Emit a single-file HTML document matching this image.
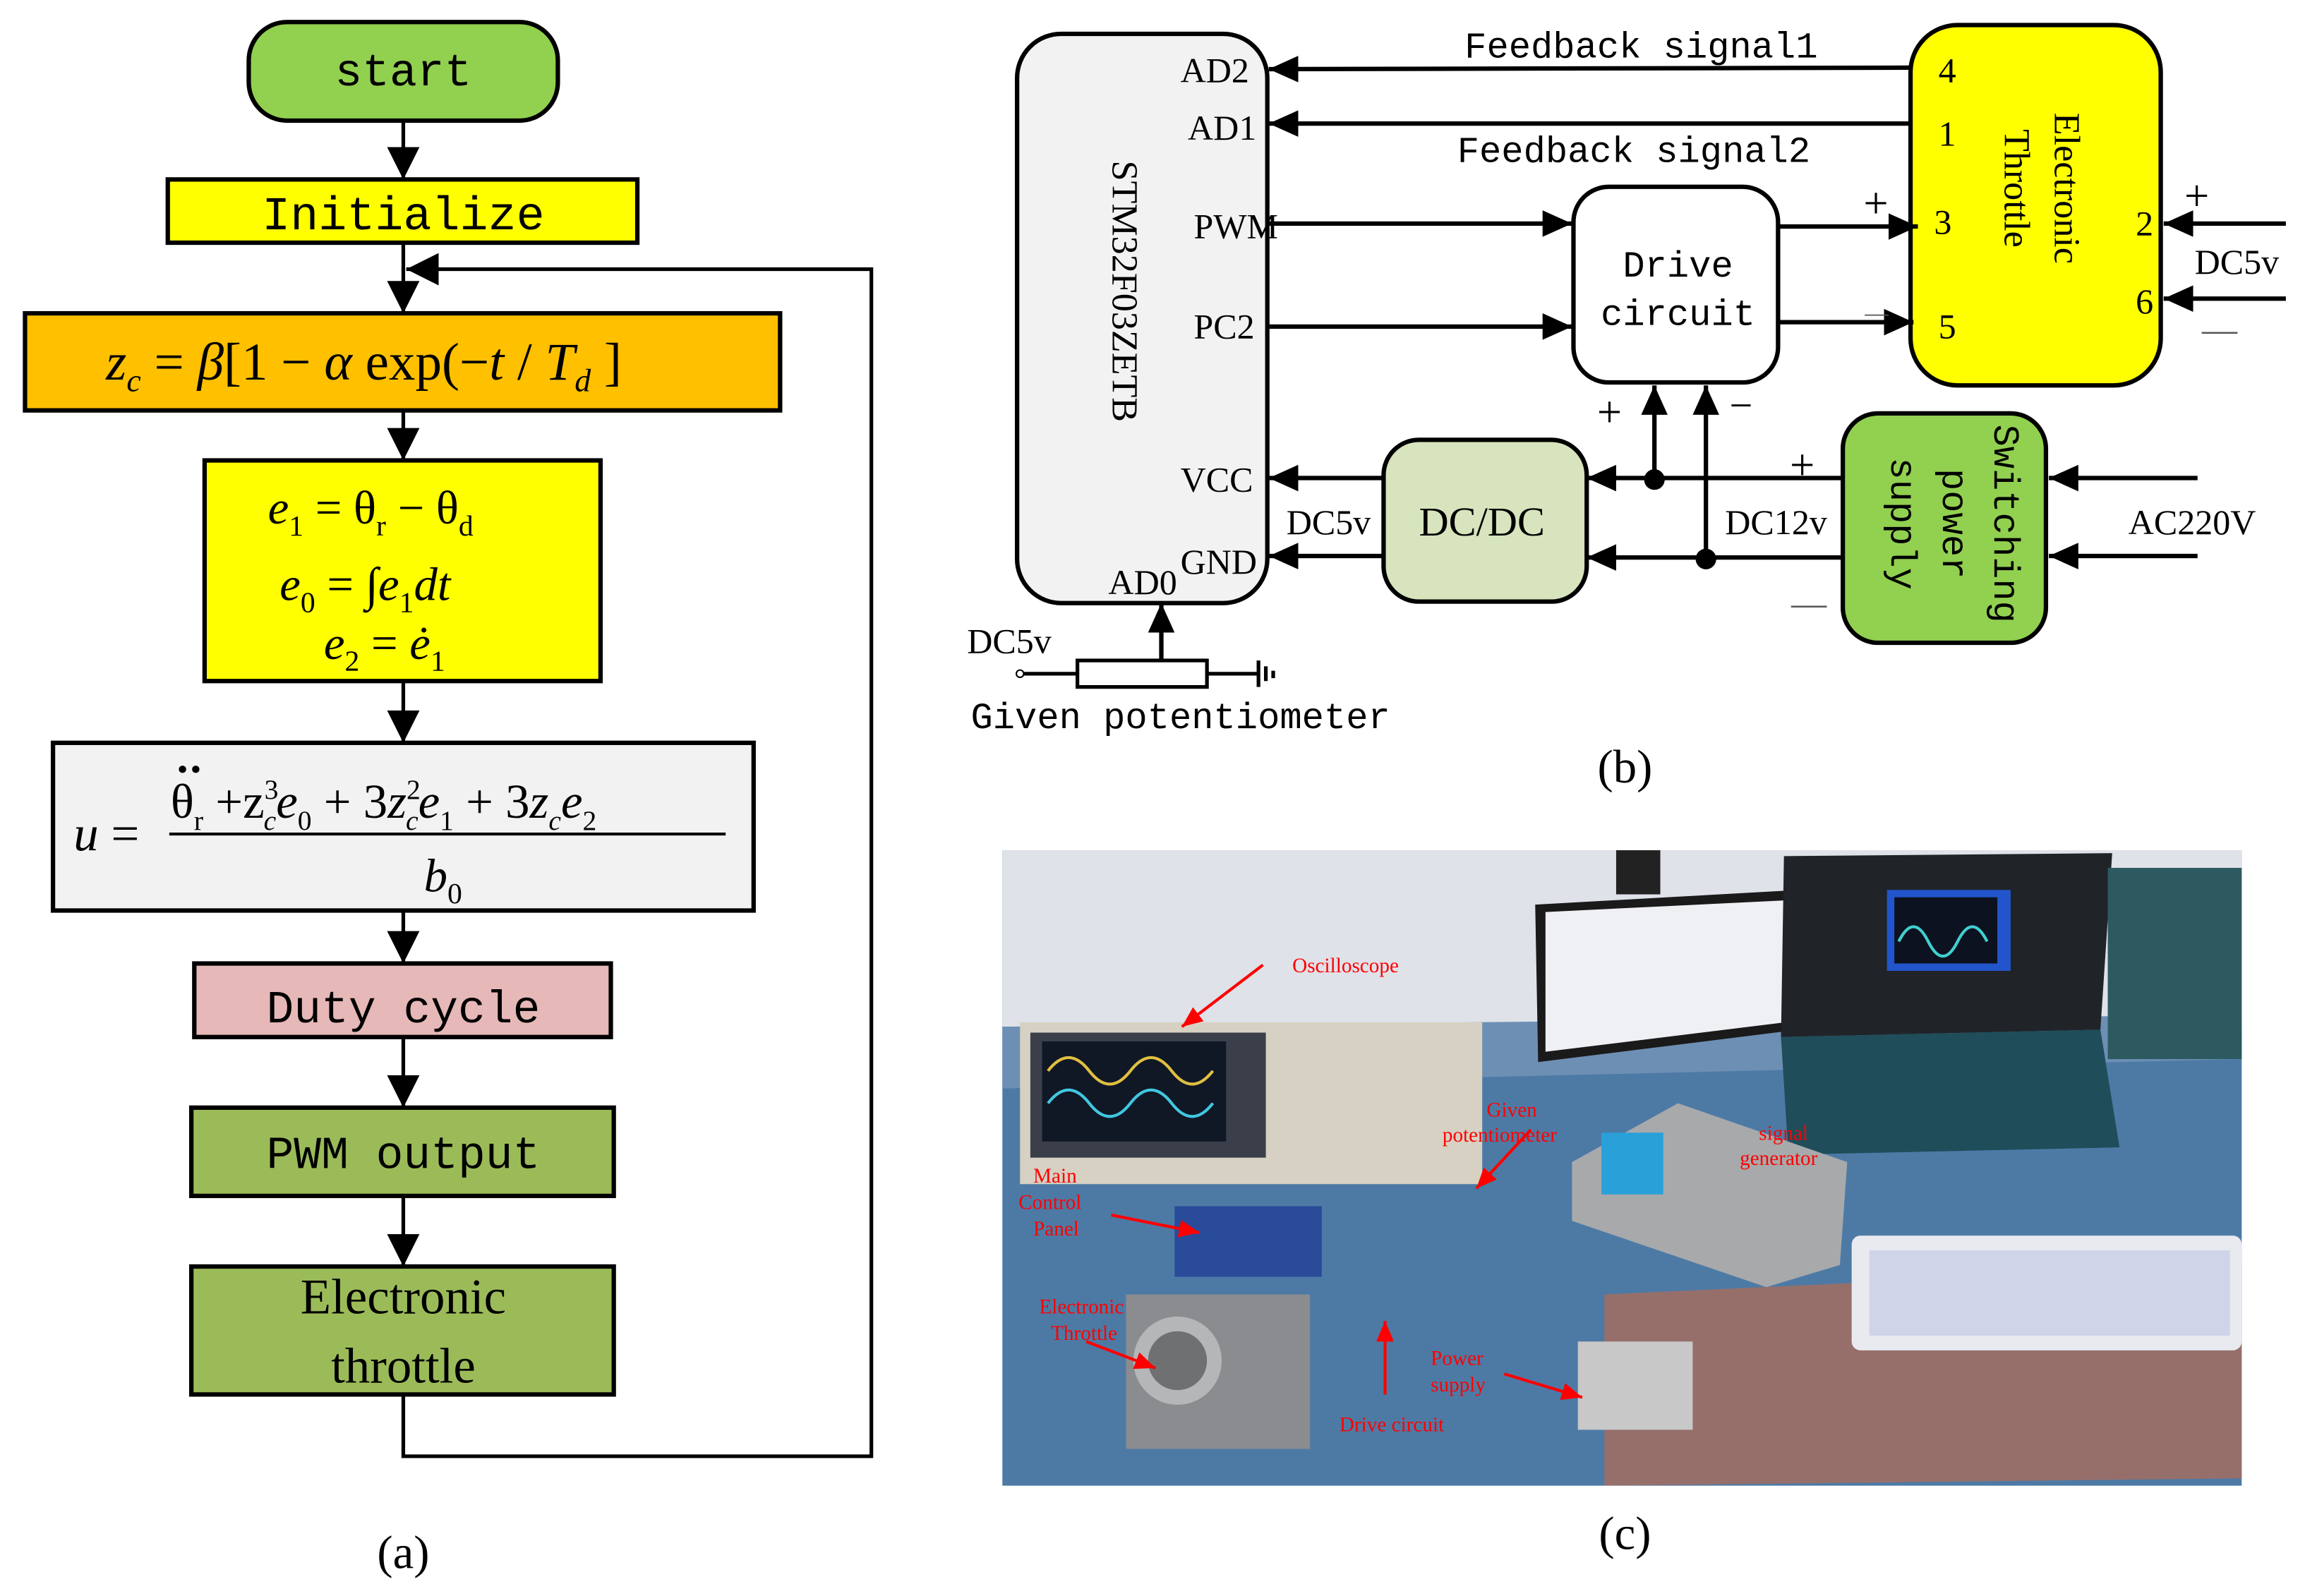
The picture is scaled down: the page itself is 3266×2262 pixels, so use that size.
<!DOCTYPE html>
<html><head><meta charset="utf-8"><style>html,body{margin:0;padding:0;background:#fff}svg{display:block}</style></head>
<body>
<svg xmlns="http://www.w3.org/2000/svg" width="3266" height="2262" viewBox="0 0 1566 1085" preserveAspectRatio="none">
<defs>
<marker id="a" viewBox="0 0 20 18" refX="20" refY="9" markerWidth="20" markerHeight="18" markerUnits="userSpaceOnUse" orient="auto"><path d="M0,0L20,9L0,18z" fill="#000"/></marker>
<marker id="b" viewBox="0 0 22 22" refX="22" refY="11" markerWidth="22" markerHeight="22" markerUnits="userSpaceOnUse" orient="auto"><path d="M0,0L22,11L0,22z" fill="#000"/></marker>
<marker id="r" viewBox="0 0 14 12" refX="14" refY="6" markerWidth="14" markerHeight="12" markerUnits="userSpaceOnUse" orient="auto"><path d="M0,0L14,6L0,12z" fill="#f00"/></marker>
</defs>
<rect width="1566" height="1085" fill="#fff"/>
<g font-family="Liberation Mono, monospace" fill="#000">
<!-- (a) flowchart -->
<g stroke="#000" stroke-width="3">
<rect x="169" y="15" width="210" height="67" rx="26" fill="#92d050"/>
<rect x="114" y="122" width="319" height="43" fill="#ffff00"/>
<rect x="17" y="213" width="513" height="66" fill="#ffc000"/>
<rect x="139" y="313" width="269" height="150" fill="#ffff00"/>
<rect x="36" y="505" width="476" height="114" fill="#f2f2f2"/>
<rect x="132" y="655" width="283" height="50" fill="#e6b8b7"/>
<rect x="130" y="753" width="287" height="60" fill="#9bbb59"/>
<rect x="130" y="861" width="287" height="87" fill="#9bbb59"/>
</g>
<g stroke="#000" stroke-width="2.5" fill="none" marker-end="url(#b)">
<path d="M274 82V122"/><path d="M274 165V213"/><path d="M274 279V313"/><path d="M274 463V505"/><path d="M274 619V655"/><path d="M274 705V753"/><path d="M274 813V861"/>
<path d="M274 948V990H592V183H276"/>
</g>
<g font-size="31" text-anchor="middle">
<text x="274" y="58">start</text>
<text x="274" y="156" font-size="32">Initialize</text>
<text x="274" y="695">Duty cycle</text>
<text x="274" y="794">PWM output</text>
</g>
<g font-family="Liberation Serif, serif" font-size="34" text-anchor="middle">
<text x="274" y="893">Electronic</text>
<text x="274" y="940">throttle</text>
</g>
<g font-family="Liberation Serif, serif" font-size="36" font-style="italic">
<text x="72" y="258">z<tspan font-size="22" dy="8">c</tspan><tspan dy="-8" font-style="normal"> = </tspan>β<tspan font-style="normal">[1 − </tspan>α<tspan font-style="normal"> exp(−</tspan>t<tspan font-style="normal"> / </tspan>T<tspan font-size="22" dy="8">d</tspan><tspan dy="-8" font-style="normal"> ]</tspan></text>
<text x="182" y="356" font-size="32">e<tspan font-size="20" dy="8" font-style="normal">1</tspan><tspan dy="-8" font-style="normal"> = θ</tspan><tspan font-size="20" dy="8" font-style="normal">r</tspan><tspan dy="-8" font-style="normal"> − θ</tspan><tspan font-size="20" dy="8" font-style="normal">d</tspan></text>
<text x="190" y="408" font-size="32">e<tspan font-size="20" dy="8" font-style="normal">0</tspan><tspan dy="-8" font-style="normal"> = ∫</tspan>e<tspan font-size="20" dy="8" font-style="normal">1</tspan><tspan dy="-8">dt</tspan></text>
<text x="220" y="448" font-size="32">e<tspan font-size="20" dy="8" font-style="normal">2</tspan><tspan dy="-8" font-style="normal"> = </tspan>ė<tspan font-size="20" dy="8" font-style="normal">1</tspan></text>
<text x="50" y="578" font-size="34">u<tspan font-style="normal"> =</tspan></text>
<circle cx="124" cy="523" r="2.5" fill="#000"/><circle cx="133" cy="523" r="2.5" fill="#000"/>
<text x="116" y="556" font-size="33" font-style="normal">θ<tspan font-size="19" dy="8">r</tspan><tspan dy="-8"> +z</tspan><tspan font-size="19" dy="-13">3</tspan><tspan font-size="19" dx="-10" dy="21" font-style="italic">c</tspan><tspan dy="-8" font-style="italic">e</tspan><tspan font-size="19" dy="8">0</tspan><tspan dy="-8"> + 3</tspan><tspan font-style="italic">z</tspan><tspan font-size="19" dy="-13">2</tspan><tspan font-size="19" dx="-10" dy="21" font-style="italic">c</tspan><tspan dy="-8" font-style="italic">e</tspan><tspan font-size="19" dy="8">1</tspan><tspan dy="-8"> + 3</tspan><tspan font-style="italic">z</tspan><tspan font-size="19" dy="8" font-style="italic">c</tspan><tspan dy="-8" font-style="italic">e</tspan><tspan font-size="19" dy="8">2</tspan></text>
<line x1="115" y1="567" x2="493" y2="567" stroke="#000" stroke-width="2"/>
<text x="288" y="606" font-size="32">b<tspan font-size="20" dy="8" font-style="normal">0</tspan></text>
</g>
<text x="274" y="1066" font-family="Liberation Serif, serif" font-size="32" text-anchor="middle">(a)</text>

<!-- (b) -->
<g stroke="#000" stroke-width="3">
<rect x="691" y="23" width="170" height="387" rx="30" fill="#f2f2f2"/>
<rect x="1298" y="17" width="170" height="245" rx="32" fill="#ffff00"/>
<rect x="1069" y="127" width="139" height="133" rx="24" fill="#fff"/>
<rect x="940" y="299" width="138" height="110" rx="24" fill="#d7e4bd"/>
<rect x="1252" y="281" width="138" height="156" rx="24" fill="#92d050"/>
</g>
<g stroke="#000" stroke-width="3" fill="none" marker-end="url(#a)">
<path d="M1298 46L862 47"/>
<path d="M1298 84L862 84"/>
<path d="M862 152H1068"/>
<path d="M862 222H1068"/>
<path d="M1208 154H1303"/>
<path d="M1208 219H1300"/>
<path d="M1553 152H1470"/>
<path d="M1553 203H1470"/>
<path d="M940 325H862"/>
<path d="M940 378H862"/>
<path d="M1252 325H1078"/>
<path d="M1252 379H1078"/>
<path d="M1493 325H1392"/>
<path d="M1493 378H1392"/>
<path d="M1124 325V262"/>
<path d="M1159 379V262"/>
<path d="M789 449V410"/>
</g>
<circle cx="1124" cy="326" r="7" fill="#000"/>
<circle cx="1159" cy="380" r="7" fill="#000"/>
<g stroke="#000" stroke-width="2.5" fill="none">
<path d="M695 458H732M820 458H855M855 449V467M860 453V463M865 456V461"/>
<rect x="732" y="449" width="88" height="18" fill="#fff"/>
</g>
<circle cx="693" cy="458" r="2.5" fill="#fff" stroke="#000"/>
<g font-size="24" font-family="Liberation Serif, serif">
<text x="802" y="56">AD2</text>
<text x="807" y="95">AD1</text>
<text x="811" y="162">PWM</text>
<text x="811" y="230">PC2</text>
<text x="802" y="334">VCC</text>
<text x="802" y="390">GND</text>
<text x="753" y="404">AD0</text>
<text x="874" y="363">DC5v</text>
<text x="964" y="364" font-size="28">DC/DC</text>
<text x="1172" y="363">DC12v</text>
<text x="1446" y="363">AC220V</text>
<text x="1491" y="186">DC5v</text>
<text x="657" y="444">DC5v</text>
<text x="1317" y="56">4</text><text x="1317" y="99">1</text><text x="1314" y="159">3</text><text x="1317" y="230">5</text>
<text x="1451" y="160">2</text><text x="1451" y="213">6</text>
<text x="1266" y="148" font-size="30">+</text><text x="1484" y="143" font-size="30">+</text><text x="1216" y="326" font-size="30">+</text><text x="1085" y="290" font-size="30">+</text>
<text x="1175" y="285" font-size="28">−</text>
<text x="1496" y="232" fill="#555">—</text><text x="1217" y="418" fill="#555">—</text><text x="1267" y="218" fill="#555" font-size="16">—</text>
</g>
<g font-size="25" text-anchor="middle">
<text x="1115" y="39">Feedback signal1</text>
<text x="1110" y="110">Feedback signal2</text>
<text x="1140" y="188">Drive</text>
<text x="1140" y="221">circuit</text>
<text x="802" y="495">Given potentiometer</text>
</g>
<g font-family="Liberation Serif, serif" font-size="25" text-anchor="middle">
<text transform="translate(756,198) rotate(90)">STM32F03ZETB</text>
<text transform="translate(1396,128) rotate(90)">Electronic</text>
<text transform="translate(1362,128) rotate(90)">Throttle</text>
</g>
<g font-size="25" text-anchor="middle">
<text transform="translate(1355,356) rotate(90)">Switching</text>
<text transform="translate(1320,356) rotate(90)">power</text>
<text transform="translate(1285,356) rotate(90)">supply</text>
</g>
<text x="1104" y="532" font-family="Liberation Serif, serif" font-size="32" text-anchor="middle">(b)</text>

<!-- (c) photo -->
<rect x="681" y="578" width="842" height="432" fill="#4d7aa5"/>
<rect x="681" y="578" width="842" height="120" fill="#dfe2e9"/>
<polygon points="681,698 1523,690 1523,720 681,740" fill="#6d8fb4"/>
<rect x="1098" y="578" width="30" height="30" fill="#222"/>
<polygon points="1043,615 1222,605 1222,700 1045,722" fill="#1a1a1a"/>
<polygon points="1050,620 1215,612 1213,695 1050,715" fill="#eef0f4"/>
<polygon points="1212,582 1435,580 1427,700 1210,705" fill="#202428"/>
<rect x="1282" y="605" width="84" height="55" fill="#2255cc"/>
<rect x="1287" y="610" width="70" height="45" fill="#0d1220"/>
<path d="M1290 640q10-20 20 0t20 0t20 0" stroke="#40d0d0" stroke-width="2" fill="none"/>
<polygon points="1210,705 1427,700 1440,780 1215,785" fill="#1f4d5a"/>
<rect x="1432" y="590" width="91" height="130" fill="#2c5a60"/>
<rect x="693" y="695" width="314" height="110" fill="#d6d1c3"/>
<rect x="700" y="702" width="160" height="85" fill="#3a3f4a"/>
<rect x="708" y="708" width="125" height="68" fill="#101825"/>
<path d="M712 728q14-18 28 0t28 0t28 0t28 0" stroke="#e0c040" stroke-width="2" fill="none"/>
<path d="M712 750q14-18 28 0t28 0t28 0t28 0" stroke="#40c8e0" stroke-width="2" fill="none"/>
<polygon points="1068,790 1140,750 1255,790 1250,860 1200,875 1068,830" fill="#a7a9ab"/>
<rect x="1088" y="770" width="42" height="42" fill="#2aa0d8"/>
<polygon points="1090,880 1523,860 1523,1005 1090,1010" fill="#b56b52" opacity="0.7"/>
<rect x="1258" y="840" width="265" height="78" rx="6" fill="#e8eaf0"/>
<rect x="1270" y="850" width="245" height="58" fill="#d0d4e8"/>
<rect x="798" y="820" width="100" height="48" fill="#2a4a9a"/>
<rect x="765" y="880" width="125" height="105" fill="#8a8c90"/>
<circle cx="800" cy="925" r="30" fill="#b4b6b8"/><circle cx="800" cy="925" r="20" fill="#6f7072"/>
<rect x="1072" y="912" width="78" height="60" fill="#c8c8c8"/>
<g font-family="Liberation Serif, serif" font-size="14" fill="#ff0000">
<text x="878" y="661">Oscilloscope</text>
<text x="1010" y="759">Given</text><text x="980" y="776">potentiometer</text>
<text x="1195" y="775">signal</text><text x="1182" y="792">generator</text>
<text x="702" y="804">Main</text><text x="692" y="822">Control</text><text x="702" y="840">Panel</text>
<text x="706" y="893">Electronic</text><text x="714" y="911">Throttle</text>
<text x="972" y="928">Power</text><text x="972" y="946">supply</text>
<text x="910" y="973">Drive circuit</text>
</g>
<g stroke="#ff0000" stroke-width="2" fill="none" marker-end="url(#r)">
<path d="M858 656L803 698"/>
<path d="M1040 768L1003 808"/>
<path d="M755 826L815 838"/>
<path d="M738 912L785 930"/>
<path d="M1022 934L1075 950"/>
<path d="M941 948V898"/>
</g>
<text x="1104" y="1053" font-family="Liberation Serif, serif" font-size="32" text-anchor="middle">(c)</text>
</g>
</svg>
</body></html>
